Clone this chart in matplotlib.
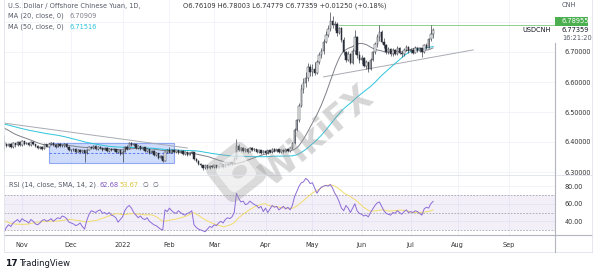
import numpy as np
import pandas as pd
import matplotlib.pyplot as plt
from matplotlib.lines import Line2D
from matplotlib.patches import Rectangle, FancyBboxPatch, Ellipse
from matplotlib.transforms import Affine2D

# ---- data (USDCNH daily) ----
# closes before the visible window, only used to warm up the moving averages
pre_closes = [6.480, 6.478, 6.475, 6.478, 6.482, 6.485, 6.490, 6.495, 6.500, 6.490, 6.485, 6.480,
              6.478, 6.472, 6.468, 6.462,
              6.458, 6.455, 6.452, 6.448, 6.450, 6.448, 6.445, 6.442, 6.450, 6.455, 6.462, 6.465,
              6.470, 6.475, 6.472, 6.468, 6.465, 6.470, 6.475, 6.478, 6.472, 6.460,
              6.450, 6.455, 6.452, 6.450, 6.445, 6.448, 6.452, 6.450, 6.440, 6.430, 6.425, 6.415, 6.400]

close_oct = [6.395, 6.386, 6.394, 6.383, 6.396, 6.389, 6.399, 6.390]
high_oct = [6.425, 6.398, 6.398, 6.396, 6.399, 6.398, 6.402, 6.402]
low_oct = [6.372, 6.382, 6.384, 6.379, 6.380, 6.385, 6.386, 6.386]

close_nov = [6.402, 6.395, 6.398, 6.389, 6.400, 6.392, 6.386, 6.380, 6.384, 6.378, 6.392, 6.385,
             6.394, 6.398, 6.390, 6.385, 6.395, 6.388, 6.386, 6.394, 6.383, 6.374]
high_nov = [6.406, 6.405, 6.401, 6.400, 6.404, 6.403, 6.395, 6.390, 6.388, 6.387, 6.395, 6.394,
            6.397, 6.401, 6.400, 6.393, 6.398, 6.397, 6.392, 6.397, 6.396, 6.386]
low_nov = [6.386, 6.391, 6.392, 6.386, 6.387, 6.389, 6.383, 6.377, 6.377, 6.374, 6.376, 6.382,
           6.383, 6.391, 6.387, 6.381, 6.383, 6.385, 6.382, 6.383, 6.380, 6.371]

close_dec = [6.372, 6.378, 6.368, 6.374, 6.366, 6.372, 6.362, 6.375, 6.384, 6.380, 6.388, 6.376,
             6.384, 6.380, 6.374, 6.380, 6.370, 6.378, 6.372, 6.376, 6.366, 6.372, 6.360]
high_dec = [6.378, 6.381, 6.380, 6.377, 6.376, 6.375, 6.374, 6.378, 6.387, 6.388, 6.391, 6.390,
            6.387, 6.386, 6.383, 6.383, 6.382, 6.381, 6.380, 6.379, 6.378, 6.375, 6.374]
low_dec = [6.368, 6.369, 6.365, 6.366, 6.363, 6.364, 6.333, 6.360, 6.372, 6.377, 6.378, 6.373,
           6.374, 6.377, 6.371, 6.372, 6.367, 6.368, 6.369, 6.370, 6.363, 6.364, 6.356]

close_jan = [6.368, 6.384, 6.378, 6.396, 6.389, 6.392, 6.380, 6.386, 6.378, 6.382, 6.370, 6.376,
             6.364, 6.370, 6.356, 6.362, 6.348, 6.352, 6.338, 6.366, 6.372]
high_jan = [6.372, 6.388, 6.390, 6.400, 6.399, 6.396, 6.394, 6.389, 6.388, 6.385, 6.384, 6.379,
            6.378, 6.373, 6.372, 6.366, 6.364, 6.356, 6.354, 6.370, 6.376]
low_jan = [6.335, 6.366, 6.375, 6.376, 6.386, 6.386, 6.377, 6.378, 6.375, 6.375, 6.367, 6.368,
           6.361, 6.362, 6.353, 6.354, 6.345, 6.345, 6.334, 6.336, 6.363]

close_feb = [6.365, 6.374, 6.366, 6.372, 6.364, 6.370, 6.360, 6.366, 6.358, 6.364, 6.366, 6.342,
             6.336, 6.328, 6.322, 6.314, 6.322, 6.312, 6.320, 6.316]
high_feb = [6.385, 6.377, 6.376, 6.375, 6.374, 6.373, 6.372, 6.369, 6.368, 6.367, 6.370, 6.367,
            6.346, 6.339, 6.331, 6.325, 6.325, 6.324, 6.323, 6.324]
low_feb = [6.362, 6.363, 6.364, 6.364, 6.361, 6.362, 6.357, 6.358, 6.355, 6.356, 6.361, 6.340,
           6.333, 6.325, 6.318, 6.307, 6.311, 6.309, 6.310, 6.313]

close_mar = [6.322, 6.314, 6.320, 6.326, 6.318, 6.328, 6.324, 6.332, 6.328, 6.345, 6.388, 6.374,
             6.380, 6.370, 6.378, 6.368, 6.380, 6.372, 6.376, 6.366, 6.372, 6.364, 6.370]
high_mar = [6.325, 6.324, 6.323, 6.329, 6.327, 6.331, 6.331, 6.335, 6.334, 6.349, 6.410, 6.392,
            6.383, 6.382, 6.381, 6.379, 6.383, 6.382, 6.379, 6.378, 6.375, 6.374, 6.373]
low_mar = [6.313, 6.310, 6.312, 6.317, 6.315, 6.316, 6.321, 6.322, 6.325, 6.326, 6.342, 6.370,
           6.371, 6.367, 6.368, 6.365, 6.366, 6.369, 6.370, 6.363, 6.364, 6.360, 6.362]

close_apr = [6.362, 6.372, 6.366, 6.378, 6.370, 6.376, 6.366, 6.374, 6.368, 6.376, 6.370, 6.380,
             6.396, 6.440, 6.472, 6.520, 6.578, 6.596, 6.612, 6.650, 6.632]
high_apr = [6.373, 6.375, 6.374, 6.381, 6.380, 6.378, 6.378, 6.377, 6.376, 6.378, 6.378, 6.383,
            6.400, 6.447, 6.478, 6.530, 6.592, 6.612, 6.632, 6.665, 6.660]
low_apr = [6.358, 6.360, 6.363, 6.364, 6.367, 6.368, 6.363, 6.364, 6.365, 6.366, 6.367, 6.368,
           6.376, 6.392, 6.436, 6.466, 6.518, 6.565, 6.585, 6.605, 6.620]

close_may = [6.645, 6.630, 6.668, 6.690, 6.705, 6.735, 6.758, 6.778, 6.805, 6.790, 6.795, 6.765,
             6.780, 6.740, 6.700, 6.675, 6.695, 6.665, 6.705, 6.750, 6.690, 6.675]
high_may = [6.660, 6.668, 6.672, 6.700, 6.712, 6.745, 6.770, 6.790, 6.835, 6.820, 6.805, 6.800,
            6.785, 6.782, 6.750, 6.705, 6.702, 6.698, 6.712, 6.772, 6.752, 6.702]
low_may = [6.620, 6.625, 6.628, 6.660, 6.680, 6.695, 6.730, 6.750, 6.770, 6.780, 6.775, 6.755,
           6.760, 6.735, 6.690, 6.668, 6.670, 6.660, 6.660, 6.695, 6.680, 6.662]

close_jun = [6.680, 6.655, 6.666, 6.645, 6.675, 6.700, 6.728, 6.750, 6.768, 6.735, 6.722, 6.700,
             6.710, 6.692, 6.708, 6.694, 6.714, 6.698, 6.692, 6.708, 6.716, 6.702]
high_jun = [6.690, 6.684, 6.672, 6.668, 6.680, 6.705, 6.732, 6.760, 6.790, 6.772, 6.748, 6.728,
            6.716, 6.712, 6.712, 6.711, 6.720, 6.716, 6.705, 6.712, 6.722, 6.720]
low_jun = [6.660, 6.650, 6.645, 6.632, 6.640, 6.670, 6.695, 6.718, 6.738, 6.730, 6.712, 6.694,
           6.695, 6.686, 6.688, 6.690, 6.690, 6.692, 6.684, 6.688, 6.702, 6.696]

close_jul = [6.708, 6.698, 6.714, 6.704, 6.712, 6.700, 6.722, 6.715, 6.742, 6.76109, 6.77359]
high_jul = [6.714, 6.712, 6.720, 6.718, 6.716, 6.714, 6.728, 6.730, 6.748, 6.7896, 6.78003]
low_jul = [6.696, 6.694, 6.696, 6.700, 6.700, 6.683, 6.698, 6.710, 6.712, 6.738, 6.74779]

pre_rsi = [48, 50, 47, 45, 46, 44, 42, 43, 40, 38, 36, 33, 30]
rsi_oct = [28, 33, 36, 34, 38, 40, 42, 39]
rsi_nov = [43, 41, 40, 38, 42, 40, 37, 36, 38, 41, 42, 40, 41, 43, 40, 42, 44, 43, 46, 45, 43, 39]
rsi_dec = [38, 37, 35, 36, 38, 34, 31, 41, 48, 52, 51, 50, 52, 53, 49, 50, 48, 50, 47, 46, 44, 39, 42]
rsi_jan = [45, 52, 56, 58, 55, 50, 47, 44, 46, 43, 42, 44, 40, 38, 36, 35, 33, 31, 30, 53, 51]
rsi_feb = [55, 52, 50, 49, 52, 50, 48, 47, 49, 50, 52, 36, 33, 31, 30, 29, 28, 31, 34, 33]
rsi_mar = [36, 35, 38, 40, 38, 42, 44, 43, 45, 50, 72, 66, 62, 63, 59, 60, 63, 61, 59, 58, 55, 57, 51]
rsi_apr = [55, 50, 54, 58, 56, 57, 53, 55, 57, 54, 56, 53, 58, 68, 74, 80, 84, 85, 89, 87, 83]
rsi_may = [84, 78, 72, 76, 79, 80, 81, 80, 82, 78, 72, 68, 62, 55, 52, 58, 55, 50, 55, 60, 52, 49]
rsi_jun = [48, 46, 47, 45, 50, 54, 58, 61, 62, 57, 52, 49, 48, 47, 50, 49, 52, 50, 48, 51, 53, 50]
rsi_jul = [51, 50, 52, 51, 49, 47, 54, 56, 55, 60, 62.68]

month_labels = ["Nov", "Dec", "2022", "Feb", "Mar", "Apr", "May", "Jun", "Jul", "Aug", "Sep"]
month_starts = ["2021-11-01", "2021-12-01", "2022-01-01", "2022-02-01", "2022-03-01", "2022-04-01",
                "2022-05-01", "2022-06-01", "2022-07-01", "2022-08-01", "2022-09-01"]
price_ticks = [6.3, 6.4, 6.5, 6.6, 6.7, 6.8]
rsi_ticks = [40, 60, 80]

# drawn objects on the chart (price levels / bar dates)
box_start, box_end, box_top, box_bottom = "2021-11-17", "2022-02-03", 6.397, 6.330
down_line = (("2021-10-20", 6.463), ("2022-02-11", 6.380))
up_line = (("2022-05-09", 6.617), ("2022-08-10", 6.707))
resist_start, resist_level = "2022-05-18", 6.78955

# ---- assemble ----
closes = np.array(close_oct + close_nov + close_dec + close_jan + close_feb + close_mar
                  + close_apr + close_may + close_jun + close_jul)
highs = np.array(high_oct + high_nov + high_dec + high_jan + high_feb + high_mar
                 + high_apr + high_may + high_jun + high_jul)
lows = np.array(low_oct + low_nov + low_dec + low_jan + low_feb + low_mar
                + low_apr + low_may + low_jun + low_jul)
opens = np.concatenate([[pre_closes[-1]], closes[:-1]])
highs = np.maximum(highs, np.maximum(opens, closes))
lows = np.minimum(lows, np.minimum(opens, closes))

rsi_all = pd.Series(pre_rsi + rsi_oct + rsi_nov + rsi_dec + rsi_jan + rsi_feb + rsi_mar
                    + rsi_apr + rsi_may + rsi_jun + rsi_jul, dtype=float)
rsi_x = np.arange(-len(pre_rsi), len(rsi_all) - len(pre_rsi))
rsi_sma = rsi_all.rolling(14, min_periods=1).mean()
shown = rsi_x >= 0

dates = pd.bdate_range("2021-10-20", periods=240)
n = len(closes)
idx = np.arange(n)


def bar_of(d):
    return dates.searchsorted(pd.Timestamp(d))


full = pd.Series(pre_closes + list(closes))
xfull = np.arange(-len(pre_closes), n)
ma20 = full.rolling(20).mean()
ma50 = full.rolling(50, min_periods=20).mean()

# ---- figure / layout in pixels ----
W, H = 598, 274
fig = plt.figure(figsize=(W / 100, H / 100), dpi=100)
fig.patch.set_facecolor('white')


def fx(x):
    return x / W


def fy(y):
    return 1 - y / H


L, R = 4, 555
ax = fig.add_axes([fx(L), fy(175), fx(R - L), 175 / H])
ra = fig.add_axes([fx(L), fy(235), fx(R - L), 60 / H])

xmin = -0.06
xmax = xmin + (R - L) / 2.234
for a in (ax, ra):
    a.set_xlim(xmin, xmax)
    for s in a.spines.values():
        s.set_visible(False)
    a.tick_params(length=0)

ax.set_ylim(6.70 - 123 / 300, 6.70 + 52 / 300)
ra.set_ylim(30 - 5 / 0.875, 70 + 20 / 0.875)

grid_c = '#f0f3fa'
mpos = [bar_of(d) for d in month_starts]
for p in mpos:
    ax.axvline(p, color=grid_c, lw=0.6, zorder=0)
    ra.axvline(p, color=grid_c, lw=0.6, zorder=0)
for t in price_ticks:
    ax.axhline(t, color=grid_c, lw=0.6, zorder=0)
for t in rsi_ticks:
    ra.axhline(t, color=grid_c, lw=0.6, zorder=0)

# tick labels
ax.set_xticks([])
ax.yaxis.tick_right()
ax.set_yticks(price_ticks)
ax.set_yticklabels(['%.5f' % t if t < 6.75 else '' for t in price_ticks])
ax.tick_params(axis='y', labelsize=4.7, labelcolor='#333333', pad=7)
ra.yaxis.tick_right()
ra.set_yticks(rsi_ticks)
ra.set_yticklabels(['%.2f' % t for t in rsi_ticks])
ra.tick_params(axis='y', labelsize=4.7, labelcolor='#333333', pad=7)
ra.set_xticks(mpos)
ra.set_xticklabels(month_labels)
ra.tick_params(axis='x', labelsize=4.7, labelcolor='#333333', pad=5)

# rectangle / trend lines
b0, b1 = bar_of(box_start), bar_of(box_end)
ax.add_patch(Rectangle((b0, box_bottom), b1 - b0, box_top - box_bottom,
                       facecolor='#a9bff7', alpha=0.55, edgecolor='#4a72f0', lw=0.8, zorder=1))
ax.plot([b0, b1], [(box_top + box_bottom) / 2] * 2, color='#4a72f0', lw=0.6, ls=(0, (3, 2)), zorder=1)
ax.plot([bar_of(down_line[0][0]), bar_of(down_line[1][0])], [down_line[0][1], down_line[1][1]],
        color='#a9abb2', lw=0.7, zorder=2)
ax.plot([bar_of(up_line[0][0]), bar_of(up_line[1][0])], [up_line[0][1], up_line[1][1]],
        color='#a9abb2', lw=0.7, zorder=2)
ax.plot([bar_of(resist_start), xmax], [resist_level] * 2, color='#8fce8f', lw=0.7, zorder=2)

# moving averages
ax.plot(xfull, ma20, color='#7f8088', lw=0.7, zorder=3)
ax.plot(xfull, ma50, color='#2ec4dc', lw=0.7, zorder=3)

# candles
up = closes >= opens
ax.vlines(idx, lows, highs, color='#2a2e39', lw=0.45, zorder=4)
ax.bar(idx[up], closes[up] - opens[up], bottom=opens[up], width=0.62,
       color='white', edgecolor='#2a2e39', lw=0.35, zorder=5)
ax.bar(idx[~up], opens[~up] - closes[~up], bottom=closes[~up], width=0.62,
       color='#2a2e39', edgecolor='#2a2e39', lw=0.35, zorder=5)

# RSI pane
ra.axhspan(30, 70, color='#7e57c2', alpha=0.09, lw=0, zorder=0)
for lvl in (30, 50, 70):
    ra.axhline(lvl, color='#9598a1', lw=0.5, ls=(0, (2.5, 2)), zorder=1)
ra.plot(rsi_x[shown], rsi_all[shown], color='#8c6bd6', lw=0.7, zorder=3)
ra.plot(rsi_x[shown], rsi_sma[shown], color='#f2dc6b', lw=0.7, zorder=2)


# frame lines (pixel coords)
def hline(y, x0, x1, c, lw=0.6):
    fig.add_artist(Line2D([fx(x0), fx(x1)], [fy(y), fy(y)], color=c, lw=lw))


def vline(x, y0, y1, c, lw=0.6):
    fig.add_artist(Line2D([fx(x), fx(x)], [fy(y0), fy(y1)], color=c, lw=lw))


hline(175, L, 592, '#e0e3eb')
hline(235, L, 592, '#b2b5be', 0.8)
hline(252, L, 592, '#e0e3eb')
vline(R, 43, 252, '#b2b5be', 0.8)
vline(592, 0, 252, '#e0e3eb')
vline(L, 0, 252, '#e0e3eb')

# watermark (WikiFX)
rot = Affine2D().rotate_deg_around(236, H - 172, 38)
logo = FancyBboxPatch((212, H - 196), 48, 48, boxstyle='round,pad=0,rounding_size=10',
                      facecolor='#9a9a9a', edgecolor='none', alpha=0.35)
logo.set_transform(rot)
fig.add_artist(logo)
inner = FancyBboxPatch((220, H - 188), 32, 32, boxstyle='round,pad=0,rounding_size=7',
                       facecolor='white', edgecolor='none', alpha=0.6)
inner.set_transform(rot)
fig.add_artist(inner)
bird = Ellipse((239, H - 174), 16, 12, facecolor='#9a9a9a', edgecolor='none', alpha=0.3)
bird.set_transform(rot)
fig.add_artist(bird)
fig.text(fx(318), fy(136), 'WikiFX', fontsize=25, fontweight='bold', color='#9a9a9a',
         alpha=0.4, rotation=40, ha='center', va='center')

# legend texts
fs = 4.8
gray = '#555a66'
fig.text(fx(8), fy(6), 'U.S. Dollar / Offshore Chinese Yuan, 1D,', fontsize=fs, color=gray, va='center')
fig.text(fx(183), fy(6), 'O6.76109 H6.78003 L6.74779 C6.77359 +0.01250 (+0.18%)',
         fontsize=fs, color='#333333', va='center')
fig.text(fx(8), fy(16), 'MA (20, close, 0)', fontsize=fs, color=gray, va='center')
fig.text(fx(69), fy(16), '6.70909', fontsize=fs, color='#7f8088', va='center')
fig.text(fx(8), fy(27), 'MA (50, close, 0)', fontsize=fs, color=gray, va='center')
fig.text(fx(69), fy(27), '6.71516', fontsize=fs, color='#2ec4dc', va='center')

fig.text(fx(9), fy(185), 'RSI (14, close, SMA, 14, 2)', fontsize=fs, color=gray, va='center')
fig.text(fx(99), fy(185), '62.68', fontsize=fs, color='#7e57c2', va='center')
fig.text(fx(119), fy(185), '53.67', fontsize=fs, color='#e0c53a', va='center')
fig.text(fx(143), fy(185), '\u2205  \u2205', fontsize=fs, color=gray, va='center')

# right price scale labels
fig.text(fx(562), fy(5), 'CNH', fontsize=fs, color=gray, va='center')
fig.add_artist(Rectangle((fx(555), fy(25.5)), fx(33), 8.5 / H, transform=fig.transFigure,
                         facecolor='#4caf50', edgecolor='none'))
fig.text(fx(562), fy(21), '6.78955', fontsize=fs, color='white', va='center')
fig.text(fx(562), fy(30), '6.77359', fontsize=fs, color='#131722', va='center')
fig.text(fx(562), fy(38), '16:21:20', fontsize=fs, color=gray, va='center')
fig.text(fx(551), fy(30), 'USDCNH', fontsize=fs, color='#131722', va='center', ha='right')

# TradingView footer
fig.text(fx(5), fy(263), '17', fontsize=6.5, fontweight='heavy', color='#131722', va='center')
fig.text(fx(19), fy(263), 'TradingView', fontsize=6, color='#131722', va='center')

fig.savefig('out.png', dpi=100, facecolor='white')
